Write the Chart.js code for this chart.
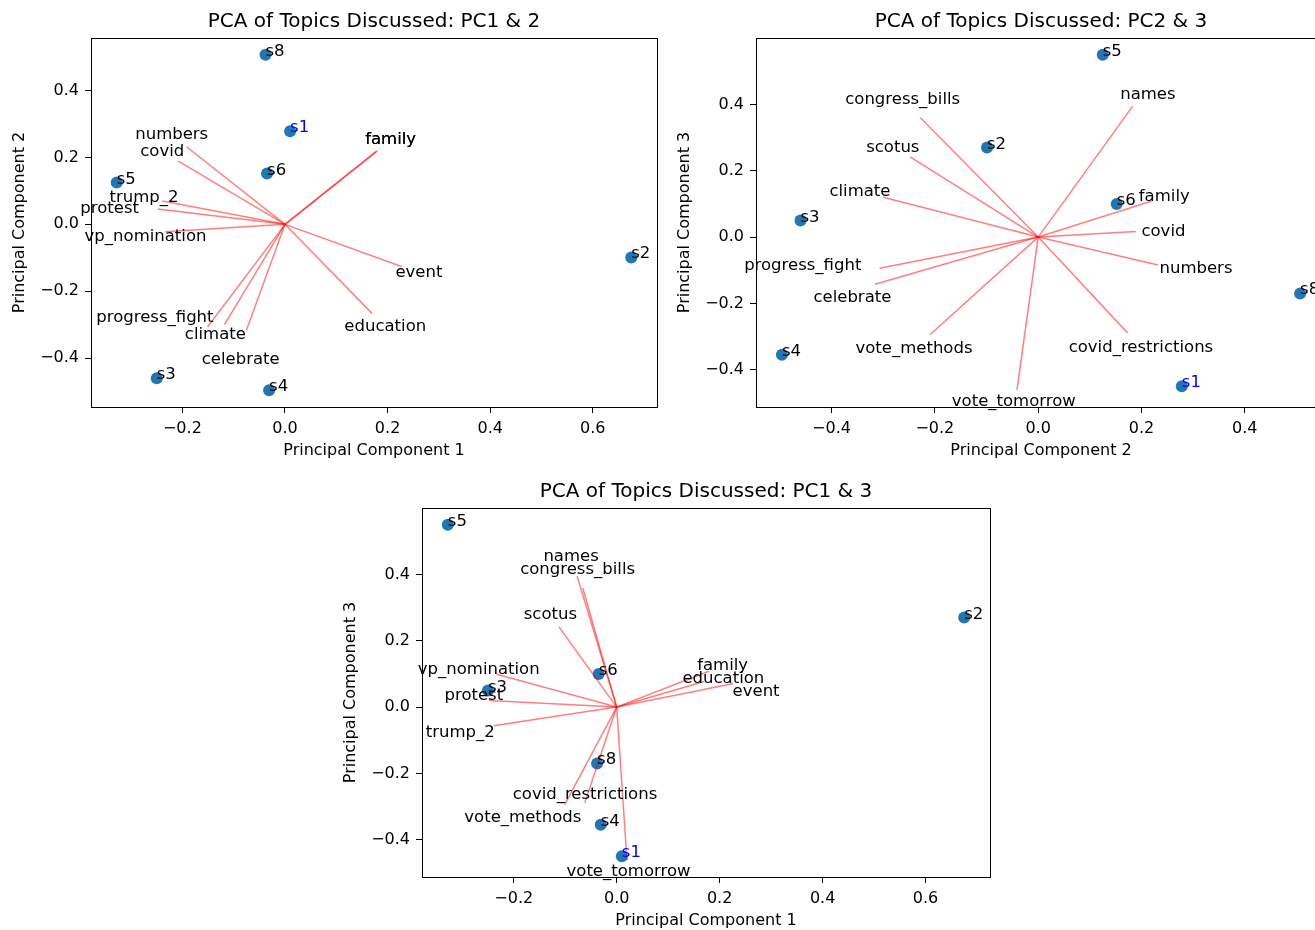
<!DOCTYPE html>
<html>
<head>
<meta charset="utf-8">
<script src="https://cdn.jsdelivr.net/npm/chart.js@4.4.1/dist/chart.umd.min.js"></script>
<style>
  html, body { margin: 0; padding: 0; background: #fff; overflow: hidden; width: 1315px; height: 930px; position: relative; }
  canvas { position: absolute; }
</style>
</head>
<body>
<canvas id="pc12" width="670" height="460" style="left:0px;top:0px"></canvas>
<canvas id="pc23" width="674" height="460" style="left:665px;top:0px"></canvas>
<canvas id="pc13" width="672" height="460" style="left:331px;top:470px"></canvas>
<script>
// sample scores on the first three components
const samples = ['s1', 's2', 's3', 's4', 's5', 's6', 's8'];
const pc1Scores = [0.010, 0.675, -0.250, -0.031, -0.328, -0.035, -0.038];
const pc2Scores = [0.278, -0.099, -0.460, -0.496, 0.125, 0.152, 0.507];
const pc3Scores = [-0.450, 0.270, 0.050, -0.355, 0.550, 0.100, -0.170];

// topic loadings
const topics = ['numbers', 'covid', 'trump_2', 'protest', 'vp_nomination', 'family', 'event', 'education',
  'progress_fight', 'climate', 'celebrate', 'names', 'congress_bills', 'scotus', 'vote_methods',
  'covid_restrictions', 'vote_tomorrow'];
const pc1Loadings = [-0.192, -0.208, -0.239, -0.248, -0.233, 0.179, 0.227, 0.170,
  -0.151, -0.118, -0.075, -0.077, -0.066, -0.112, -0.101, -0.062, 0.020];
const pc2Loadings = [0.232, 0.189, 0.070, 0.046, -0.022, 0.219, -0.126, -0.267,
  -0.307, -0.300, -0.316, 0.183, -0.228, -0.248, -0.209, 0.173, -0.041];
const pc3Loadings = [-0.084, 0.017, -0.056, 0.020, 0.099, 0.108, 0.071, 0.077,
  -0.094, 0.120, -0.142, 0.395, 0.360, 0.242, -0.294, -0.289, -0.462];

// topics drawn in each panel (family is plotted twice in the first one)
const topicsPC12 = ['numbers', 'covid', 'trump_2', 'protest', 'vp_nomination', 'family', 'family',
  'event', 'education', 'progress_fight', 'climate', 'celebrate'];
const topicsPC23 = ['congress_bills', 'names', 'scotus', 'climate', 'family', 'covid', 'numbers',
  'progress_fight', 'celebrate', 'vote_methods', 'covid_restrictions', 'vote_tomorrow'];
const topicsPC13 = ['names', 'congress_bills', 'scotus', 'vp_nomination', 'protest', 'trump_2',
  'family', 'education', 'event', 'covid_restrictions', 'vote_methods', 'vote_tomorrow'];

const ticksPC1 = [-0.2, 0.0, 0.2, 0.4, 0.6];
const ticksPC2 = [-0.4, -0.2, 0.0, 0.2, 0.4];
const ticksPC3 = [-0.4, -0.2, 0.0, 0.2, 0.4];

// pixel nudges for labels that were pushed apart in the original
const labelShift = {
    pc12: {protest: [-29, 2], vp_nomination: [-2, 4], progress_fight: [-41, -25], climate: [0, -5], celebrate: [0, 14]},
    pc23: {names: [1, 8], scotus: [2, 3], covid: [13, 1], numbers: [20, 0], progress_fight: [-53, -7],
        celebrate: [2, 7], family: [-4, 1]},
    pc13: {protest: [4, -4], trump_2: [-15, 4], education: [6, 1], event: [5, 12],
        covid_restrictions: [5, -23], vote_methods: [-34, -1], vote_tomorrow: [0, -3]}
};

const FONT = 'DejaVu Sans';
Chart.defaults.font.family = FONT;
Chart.defaults.font.size = 16;
Chart.defaults.color = '#000';

const fmt = v => (v < 0 ? '\u2212' : '') + Math.abs(v).toFixed(1);

// matplotlib style autoscale: 5% margin round the data
function limits(vals) {
    const lo = Math.min(...vals), hi = Math.max(...vals);
    const m = (hi - lo) * 0.05;
    return [lo - m, hi + m];
}

const biplotLabels = {
    id: 'biplotLabels',
    afterDatasetsDraw(chart, args, opts) {
        const {ctx, chartArea, scales: {x, y}} = chart;
        ctx.save();
        ctx.font = '16.5px "' + FONT + '"';
        // topic names a bit past the arrow tips
        ctx.textAlign = 'center';
        ctx.textBaseline = 'middle';
        ctx.fillStyle = '#000';
        opts.arrows.forEach(a => {
            const d = opts.shift[a.name] || [0, 0];
            const px = x.getPixelForValue(a.x * 1.15) + d[0];
            let py = y.getPixelForValue(a.y * 1.15) + d[1];
            py = Math.min(py, chartArea.bottom - 5);
            ctx.fillText(a.name, px, py);
        });
        // sample names
        ctx.textAlign = 'left';
        ctx.textBaseline = 'alphabetic';
        opts.points.forEach(p => {
            ctx.fillStyle = p.name === 's1' ? '#0000ff' : '#000';
            ctx.fillText(p.name, x.getPixelForValue(p.x), y.getPixelForValue(p.y) + 1);
        });
        ctx.restore();
    },
    afterDraw(chart, args, opts) {
        const {ctx, chartArea} = chart;
        ctx.save();
        ctx.strokeStyle = '#000';
        ctx.lineWidth = 1;
        ctx.strokeRect(Math.round(chartArea.left) + 0.5, Math.round(chartArea.top) + 0.5,
            Math.round(chartArea.right - chartArea.left), Math.round(chartArea.bottom - chartArea.top));
        ctx.font = '20px "' + FONT + '"';
        ctx.fillStyle = '#000';
        ctx.textAlign = 'center';
        ctx.textBaseline = 'middle';
        ctx.fillText(opts.title, (chartArea.left + chartArea.right) / 2, chartArea.top - 16);
        ctx.restore();
    }
};

function makePanel(id, title, xName, yName, xScores, yScores, xLoad, yLoad, shown, xTicks, yTicks) {
    const canvas = document.getElementById(id);
    const arrows = shown.map(name => {
        const i = topics.indexOf(name);
        return {name: name, x: xLoad[i], y: yLoad[i]};
    });
    const points = samples.map((s, i) => ({name: s, x: xScores[i], y: yScores[i]}));

    const [xMin, xMax] = limits(xScores.concat(arrows.map(a => a.x), [0]));
    const [yMin, yMax] = limits(yScores.concat(arrows.map(a => a.y), [0]));

    const datasets = arrows.map(a => ({
        label: a.name,
        data: [{x: 0, y: 0}, {x: a.x, y: a.y}],
        showLine: true,
        borderColor: 'rgba(255,0,0,0.5)',
        borderWidth: 1.5,
        pointRadius: 0,
        order: 0
    }));
    datasets.push({
        label: 'samples',
        data: points.map(p => ({x: p.x, y: p.y})),
        pointRadius: 6,
        pointBackgroundColor: '#1f77b4',
        pointBorderWidth: 0,
        showLine: false,
        order: 1
    });

    const axis = (name, ticks, horizontal) => ({
        type: 'linear',
        min: horizontal ? xMin : yMin,
        max: horizontal ? xMax : yMax,
        afterBuildTicks: s => { s.ticks = ticks.map(v => ({value: v})); },
        afterFit: s => { if (horizontal) s.height = 53; else s.width = 91; },
        ticks: {callback: v => fmt(v), color: '#000', font: {size: 16}, padding: 6,
            autoSkip: false, maxRotation: 0},
        grid: {drawOnChartArea: false, drawTicks: true, tickLength: 6, color: '#000'},
        border: {display: false},
        title: {display: true, text: name, color: '#000', font: {size: 16},
            padding: horizontal ? {top: 0, bottom: 0} : {top: 10, bottom: 0}}
    });

    return new Chart(canvas, {
        type: 'scatter',
        data: {datasets: datasets},
        options: {
            responsive: false,
            animation: false,
            events: [],
            layout: {padding: {left: 0, top: 38, right: 13, bottom: 0}},
            plugins: {
                legend: {display: false},
                tooltip: {enabled: false},
                biplotLabels: {arrows: arrows, points: points, title: title, shift: labelShift[id] || {}}
            },
            scales: {
                x: axis(xName, xTicks, true),
                y: axis(yName, yTicks, false)
            }
        },
        plugins: [biplotLabels]
    });
}

makePanel('pc12', 'PCA of Topics Discussed: PC1 & 2', 'Principal Component 1', 'Principal Component 2',
    pc1Scores, pc2Scores, pc1Loadings, pc2Loadings, topicsPC12, ticksPC1, ticksPC2);
makePanel('pc23', 'PCA of Topics Discussed: PC2 & 3', 'Principal Component 2', 'Principal Component 3',
    pc2Scores, pc3Scores, pc2Loadings, pc3Loadings, topicsPC23, ticksPC2, ticksPC3);
makePanel('pc13', 'PCA of Topics Discussed: PC1 & 3', 'Principal Component 1', 'Principal Component 3',
    pc1Scores, pc3Scores, pc1Loadings, pc3Loadings, topicsPC13, ticksPC1, ticksPC3);
</script>
</body>
</html>
